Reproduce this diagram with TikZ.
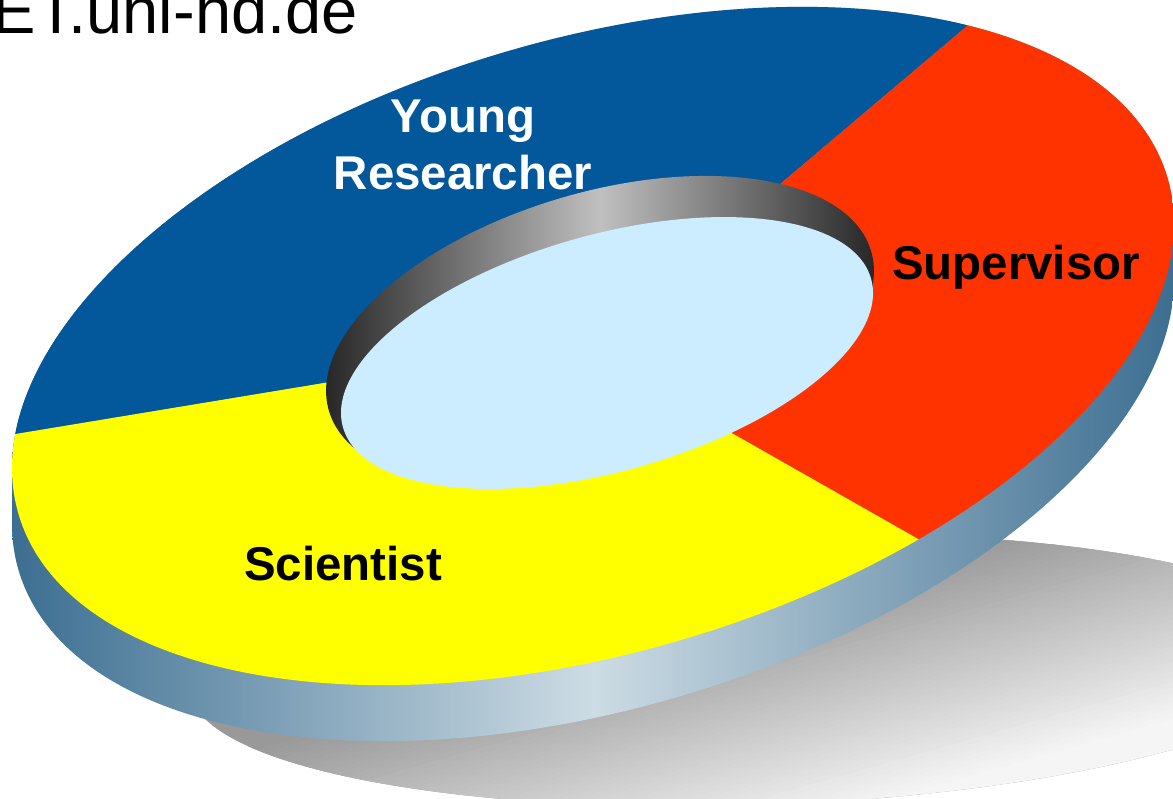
\documentclass[tikz,border=0pt]{standalone}
\usepackage{fontspec}
\setmainfont{Liberation Sans}

\definecolor{ringblue}{RGB}{2,88,154}
\definecolor{ringred}{RGB}{255,51,0}
\definecolor{ringyellow}{RGB}{255,255,0}
\definecolor{holeblue}{RGB}{204,236,255}
\definecolor{banddark}{RGB}{60,110,145}
\definecolor{bandlight}{RGB}{205,220,228}
\definecolor{rimdark}{RGB}{35,35,35}
\definecolor{rimlight}{RGB}{192,192,192}

\begin{document}
\begin{tikzpicture}[x=0.02cm,y=-0.02cm]
	\tikzstyle{segtext}=[font=\fontsize{27}{32.4}\selectfont\bfseries, inner sep=0pt]
	\useasboundingbox (0,0) rectangle (1173,798);

	% shadow on the floor, fading away from the ring
	\begin{scope}
		\clip[shift={(760,670)}, rotate=2] (0,0) ellipse (570 and 135);
		\fill[black!40] (100,450) rectangle (1200,850);
		\begin{scope}[rotate around={15.8:(660,640)}]
			\foreach \i in {0,...,45} {
				\pgfmathsetmacro\k{40-0.8*\i}
				\fill[black!\k] (-200,{630+5*\i}) rectangle (1600,{636+5*\i});
			}
			\fill[black!4] (-200,860) rectangle (1600,1200);
		\end{scope}
	\end{scope}

	% outer side of the ring
	\begin{scope}
		\clip[shift={(593,346)}, rotate=16.3] \foreach \d in {0,4,...,56} {({-0.2807*\d},{0.9598*\d}) ellipse (598.6 and 306.9)};
		\shade[left color=banddark, right color=banddark, middle color=bandlight] (12,0) rectangle (1175,800);
	\end{scope}

	% top face, three parts
	\begin{scope}
		\clip[shift={(593,346)}, rotate=16.3] (0,0) ellipse (598.6 and 306.9);
		\coordinate (c) at (600,345);
		\coordinate (br-in) at (688,262);
		\coordinate (br-out) at (1064,-56);
		\coordinate (ry-in) at (677,402);
		\coordinate (ry-out) at (1006,589);
		\coordinate (yb-in) at (421,367);
		\coordinate (yb-out) at (-51,445);
		\fill[ringblue] (c) -- (yb-in) -- (yb-out) -- (-60,-80) -- (1064,-80) -- (br-out) -- (br-in) -- cycle;
		\fill[ringred] (c) -- (br-in) -- (br-out) -- (1064,-80) -- (1250,-80) -- (1250,589) -- (ry-out) -- (ry-in) -- cycle;
		\fill[ringyellow] (c) -- (ry-in) -- (ry-out) -- (1006,900) -- (-60,900) -- (yb-out) -- (yb-in) -- cycle;
	\end{scope}

	% hole with its inner wall
	\begin{scope}
		\clip (345,450) -- (880,288) -- (880,150) -- (300,150) -- (300,450) -- cycle;
		\clip[shift={(600,331)}, rotate=16.4] (0,0) ellipse (282.6 and 138.6);
		\shade[left color=rimdark, right color=rimdark, middle color=rimlight] (318,170) rectangle (882,460);
	\end{scope}
	\fill[holeblue, shift={(607,353)}, rotate=15.7] (0,0) ellipse (274.3 and 118.3);

	\node[segtext, text=white, align=center] (young) at (463,145) {Young\\Researcher};
	\node[segtext, anchor=base] (supervisor) at (1016,279) {Supervisor};
	\node[segtext, anchor=base] (scientist) at (343,580) {Scientist};
	\node[font=\fontsize{37}{44}\selectfont, anchor=base east, inner sep=0pt] (site) at (358,33) {ET.uni-hd.de};
\end{tikzpicture}
\end{document}
